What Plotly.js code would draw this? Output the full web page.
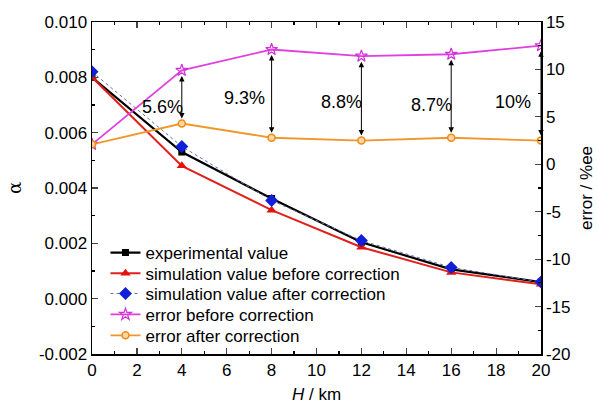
<!DOCTYPE html>
<html>
<head>
<meta charset="utf-8">
<script src="https://cdn.plot.ly/plotly-3.0.1.min.js"></script>
<style>html,body{margin:0;padding:0;background:#fff;}#chart{width:598px;height:404px;}</style>
</head>
<body>
<div id="chart"></div>
<script>
const H = [0, 4, 8, 12, 16, 20];
const experimental = [0.0080, 0.0053, 0.00362, 0.00204, 0.00106, 0.0006];
const simBefore = [0.0080, 0.0048, 0.0032, 0.00186, 0.00095, 0.00052];
const simAfter = [0.0082, 0.0055, 0.00355, 0.0021, 0.00113, 0.0006];
const errBefore = [2.1, 9.9, 12.1, 11.4, 11.6, 12.5];
const errAfter = [2.1, 4.3, 2.8, 2.5, 2.8, 2.5];
const diffLabels = ["5.6%", "9.3%", "8.8%", "8.7%", "10%"];
const labelX = [3.15, 6.8, 11.1, 15.1, 18.75];
const labelY = [6.0, 7.0, 6.6, 6.3, 6.6];
const xTicks = [0, 2, 4, 6, 8, 10, 12, 14, 16, 18, 20];
const yTickVals = [-0.002, 0, 0.002, 0.004, 0.006, 0.008, 0.010];
const yTickText = ["-0.002", "0.000", "0.002", "0.004", "0.006", "0.008", "0.010"];
const y2TickVals = [-20, -15, -10, -5, 0, 5, 10, 15];
const y2TickText = ["-20", "-15", "-10", "-5", "0", "5", "10", "15"];
const seriesNames = ["experimental value", "simulation value before correction",
  "simulation value after correction", "error before correction", "error after correction"];

const FONT = "Liberation Sans, Arial, sans-serif";

const traces = [
  {x: H, y: experimental, name: seriesNames[0], legend: "legend", mode: "lines+markers",
   line: {color: "#000", width: 2.2}, marker: {symbol: "square", size: 7, color: "#000"}},
  {x: H, y: simBefore, name: seriesNames[1], legend: "legend2", mode: "lines+markers",
   line: {color: "#e0201a", width: 2}, marker: {symbol: "triangle-up", size: 9, color: "#e8100c"}},
  {x: H, y: simAfter, name: seriesNames[2], legend: "legend3", mode: "lines+markers",
   line: {color: "#6470a8", width: 1, dash: "dot"}, marker: {symbol: "diamond", size: 10, color: "#1020d8"}},
  {x: H, y: errBefore, name: seriesNames[3], legend: "legend4", mode: "lines+markers", yaxis: "y2",
   line: {color: "#e040e0", width: 1.8}, marker: {symbol: "star-open", size: 9, color: "#d030d8", line: {width: 1.2}}},
  {x: H, y: errAfter, name: seriesNames[4], legend: "legend5", mode: "lines+markers", yaxis: "y2",
   line: {color: "#f0962a", width: 1.8}, marker: {symbol: "circle", size: 7, color: "#fbd7a8", line: {color: "#f08a10", width: 1.5}}}
];

const annotations = [];
for (let i = 1; i < H.length; i++) {
  annotations.push({
    x: H[i], y: errAfter[i], xref: "x", yref: "y2",
    ax: H[i], ay: errBefore[i], axref: "x", ayref: "y2",
    text: "", showarrow: true, arrowside: "end+start",
    arrowhead: 2, startarrowhead: 2, arrowsize: 1.1, startarrowsize: 1.1, arrowwidth: 1,
    arrowcolor: "#000", standoff: 5, startstandoff: 4
  });
  annotations.push({
    x: labelX[i - 1], y: labelY[i - 1], xref: "x", yref: "y2",
    text: diffLabels[i - 1], showarrow: false,
    font: {family: FONT, size: 18, color: "#000"}
  });
}

const rowY = [0.304, 0.242, 0.181, 0.118, 0.055];
function legendAt(y) {
  return {x: 0.03, y: y, xanchor: "left", yanchor: "middle", bgcolor: "rgba(0,0,0,0)",
          font: {family: FONT, size: 17, color: "#000"}, itemwidth: 30};
}

const layout = {
  width: 598, height: 404,
  margin: {l: 92, r: 57, t: 22, b: 50},
  paper_bgcolor: "#fff", plot_bgcolor: "#fff",
  font: {family: FONT, size: 17, color: "#000"},
  showlegend: true,
  legend: legendAt(rowY[0]),
  legend2: legendAt(rowY[1]),
  legend3: legendAt(rowY[2]),
  legend4: legendAt(rowY[3]),
  legend5: legendAt(rowY[4]),
  xaxis: {
    range: [0, 20], tickvals: xTicks, ticks: "inside", ticklen: 6, tickwidth: 1.2,
    showline: true, linecolor: "#000", linewidth: 1.5, mirror: "ticks", showgrid: false, zeroline: false,
    minor: {dtick: 1, ticks: "inside", ticklen: 3, tickcolor: "#000"},
    tickfont: {family: FONT, size: 17},
    title: {text: "<i>H</i> / km", font: {family: FONT, size: 17}, standoff: 12}
  },
  yaxis: {
    range: [-0.002, 0.010], tickvals: yTickVals, ticktext: yTickText, ticks: "inside", ticklen: 6, tickwidth: 1.2,
    showline: true, linecolor: "#000", linewidth: 1.5, showgrid: false, zeroline: false,
    minor: {dtick: 0.001, ticks: "inside", ticklen: 3, tickcolor: "#000"},
    tickfont: {family: FONT, size: 17},
    title: {text: "α", font: {family: "DejaVu Serif, serif", size: 18}, standoff: 12}
  },
  yaxis2: {
    overlaying: "y", side: "right",
    range: [-20, 15], tickvals: y2TickVals, ticktext: y2TickText, ticks: "inside", ticklen: 6, tickwidth: 1.2,
    showline: true, linecolor: "#000", linewidth: 1.5, showgrid: false, zeroline: false,
    minor: {dtick: 2.5, ticks: "inside", ticklen: 3, tickcolor: "#000"},
    tickfont: {family: FONT, size: 17},
    title: {text: "error / %ee", font: {family: FONT, size: 17}, standoff: 10}
  },
  annotations: annotations
};

Plotly.newPlot("chart", traces, layout, {displayModeBar: false, staticPlot: true});
</script>
</body>
</html>
